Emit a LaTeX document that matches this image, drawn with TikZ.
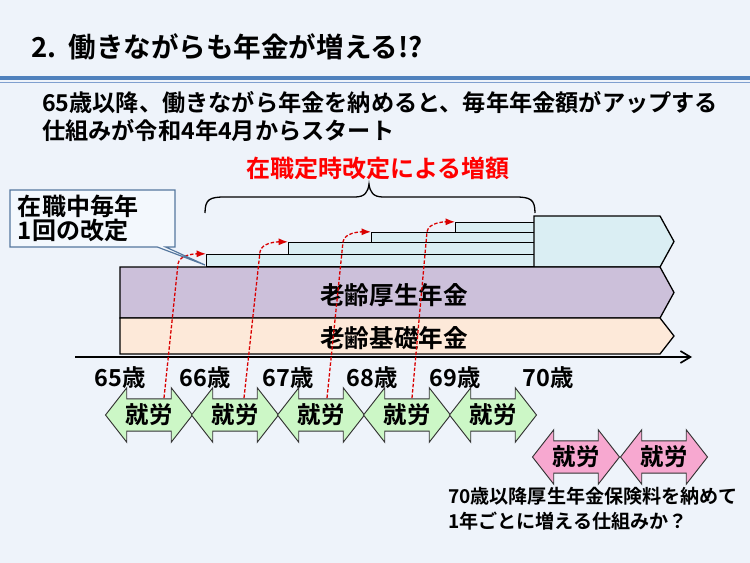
\documentclass[tikz,border=0pt]{standalone}
\usepackage{fontspec}
\setmainfont{Noto Sans CJK JP}[BoldFont={Noto Sans CJK JP Bold}]
\usepackage{xcolor}
\usetikzlibrary{arrows.meta,positioning,calc,shapes.arrows,shapes.callouts}
\definecolor{slidebg}{HTML}{EEF3FA}
\definecolor{ruleblue}{HTML}{4F81BD}
\definecolor{rulelight}{HTML}{7F9FCF}
\definecolor{stepcyan}{HTML}{DAEEF3}
\definecolor{kosei}{HTML}{CCC0DA}
\definecolor{kiso}{HTML}{FDE9D9}
\definecolor{workgreen}{HTML}{CCF7C6}
\definecolor{workpink}{HTML}{F7A8D0}
\definecolor{noteframe}{HTML}{55779E}
\definecolor{notefill}{HTML}{F3F8FD}
\newcommand{\fs}[2]{\fontsize{#1}{#2}\selectfont\bfseries}

\begin{document}
\begin{tikzpicture}[x=0.03cm,y=-0.03cm,>=Latex,
  band/.style={draw=black,line width=1.1pt,line join=miter},
  bandlabel/.style={font=\fs{21}{24}},
  stepbox/.style={draw=black,line width=1pt,fill=stepcyan,inner sep=0pt,anchor=south west},
  age/.style={font=\fs{20}{23}},
  work/.style={double arrow,draw=black!80,line width=0.8pt,fill=workgreen,
    double arrow tip angle=104,double arrow head extend=0.33cm,
    minimum height=2.61cm,inner sep=4pt,font=\fs{20}{22}},
  revise/.style={->,red!85!black,line width=1.1pt,dash pattern=on 3pt off 1.6pt},
  note/.style={rectangle callout,draw=noteframe,line width=1pt,fill=notefill,
    minimum width=4.95cm,minimum height=1.71cm,inner xsep=0.24cm,
    text width=4.47cm,align=left,font=\fs{20.5}{20.5}}]
  % slide background and bounding box
  \fill[slidebg] (0,0) rectangle (750,563);
  \useasboundingbox (0,0) rectangle (750,563);
  % title and rule
  \node[anchor=west,font=\fs{23.5}{27}] (title) at (27,47) {2.\hspace{0.45em}働きながらも年金が増える!?};
  \draw[ruleblue,line width=2.6pt] (0,78) -- (750,78);
  \draw[rulelight,line width=1pt] (0,82.5) -- (750,82.5);
  \node[anchor=west,font=\fs{19.8}{24}] (sub1) at (38,103) {65歳以降、働きながら年金を納めると、毎年年金額がアップする};
  \node[anchor=west,font=\fs{19.8}{24}] (sub2) at (38,130) {仕組みが令和4年4月からスタート};
  \node[font=\fs{20.5}{23},text=red] (gain) at (378,168) {在職定時改定による増額};
  % brace over the steps
  \draw[line width=1.1pt] (205,213) .. controls (205,199) and (210,197) .. (225,197) -- (355,197)
    .. controls (365,197) and (368,192) .. (369,184) .. controls (370,192) and (373,197) .. (383,197)
    -- (515,197) .. controls (530,197) and (535,199) .. (535,213);
  % yearly steps
  \node[stepbox,minimum width=9.84cm,minimum height=0.36cm] (s1) at (206,267) {};
  \node[stepbox,minimum width=7.38cm,minimum height=0.36cm] (s2) at (288,255) {};
  \node[stepbox,minimum width=4.89cm,minimum height=0.30cm] (s3) at (371,243) {};
  \node[stepbox,minimum width=2.37cm,minimum height=0.30cm] (s4) at (455,233) {};
  \draw[band,fill=stepcyan] (534,216) -- (660,216) -- (674,241.5) -- (660,267) -- (534,267) -- cycle;
  % pension bands
  \draw[band,fill=kosei] (120,267) -- (660,267) -- (674,292.5) -- (660,318) -- (120,318) -- cycle;
  \node[bandlabel] (koseiname) at (394,295) {老齢厚生年金};
  \draw[band,fill=kiso] (120,318) -- (660,318) -- (674,336) -- (660,354) -- (120,354) -- cycle;
  \node[bandlabel] (kisoname) at (394,338) {老齢基礎年金};
  % age axis
  \coordinate (ax0) at (75,357);
  \coordinate (ax1) at (692,357);
  \draw[line width=1.4pt,-{Straight Barb[length=3mm,width=3.6mm]}] (ax0) -- (ax1);
  \foreach \a/\x in {65/120,66/205,67/288,68/372,69/455,70/548}
    \node[age] (age\a) at (\x,378) {{\a}歳};
  % revision arrows
  \foreach \i/\x in {1/164,2/244,3/327,4/412} {
    \coordinate (d\i) at (\x,398);
    \draw[revise] (d\i) -- ($(s\i.north west)+(-28,10)$)
      .. controls +(1.5,-9) and +(-12,0) .. (s\i.north west);
  }
  % callout
  \node[note,callout absolute pointer={(205,265)}] (yearly) at (92.5,218.5) {在職中毎年\\1回の改定};
  % work periods
  \foreach \i/\cx in {1/149,2/235,3/321,4/407,5/493}
    \node[work] (job\i) at (\cx,415) {就労};
  \node[work,fill=workpink] (late1) at (576,457) {就労};
  \node[work,fill=workpink] (late2) at (664,457) {就労};
  \node[anchor=west,align=left,font=\fs{16.3}{21}] (question) at (444,509)
    {70歳以降厚生年金保険料を納めて\\1年ごとに増える仕組みか？};
\end{tikzpicture}
\end{document}
